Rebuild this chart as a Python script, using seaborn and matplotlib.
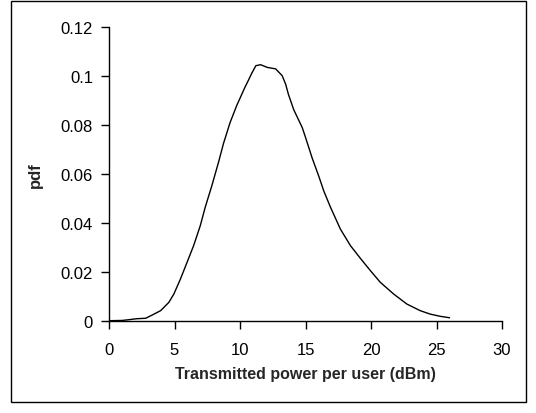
import matplotlib
matplotlib.use("Agg")
import matplotlib.pyplot as plt
import seaborn as sns
import pandas as pd
from matplotlib.patches import Rectangle

power_dbm = [0.0, 1.0, 1.5, 2.1, 2.8, 3.18, 3.94, 4.57, 4.95, 5.45, 5.96, 6.46,
             6.97, 7.35, 7.85, 8.36, 8.74, 9.24, 9.75, 10.38, 10.63, 10.88,
             11.21, 11.57, 12.08, 12.72, 13.22, 13.48, 13.7, 14.11, 14.75, 15.0,
             15.51, 16.02, 16.4, 16.9, 17.66, 18.43, 19.19, 19.95, 20.71, 21.73,
             22.74, 23.76, 24.52, 25.28, 26.0]
pdf_vals = [0.0, 0.0001, 0.0004, 0.0008, 0.001, 0.002, 0.0041, 0.0075, 0.0109,
            0.017, 0.0239, 0.0307, 0.0389, 0.0465, 0.0552, 0.0648, 0.0725, 0.0810,
            0.0880, 0.0955, 0.0982, 0.1010, 0.1043, 0.1047, 0.1036, 0.1030,
            0.1002, 0.0968, 0.0925, 0.0862, 0.0790, 0.075, 0.0665, 0.0590,
            0.0530, 0.0465, 0.0375, 0.0307, 0.0255, 0.0205, 0.0157, 0.0109,
            0.0068, 0.0041, 0.0027, 0.0018, 0.0012]
x_ticks = [0, 5, 10, 15, 20, 25, 30]
y_ticks = [0, 0.02, 0.04, 0.06, 0.08, 0.1, 0.12]
y_tick_labels = ["0", "0.02", "0.04", "0.06", "0.08", "0.1", "0.12"]

sns.set_style("ticks")
plt.rcParams['font.family'] = ['Liberation Sans', 'DejaVu Sans']

df = pd.DataFrame({"x": power_dbm, "y": pdf_vals})

fig = plt.figure(figsize=(5.36, 4.14), dpi=100)
W, H = 536, 414
ax = fig.add_axes([109 / W, (H - 321.7) / H, (502 - 109) / W, (321.7 - 28.3) / H])

sns.lineplot(data=df, x="x", y="y", ax=ax, color="black", linewidth=1.0)

ax.set_xlim(0, 30)
ax.set_ylim(0, 0.12)
ax.set_xticks(x_ticks)
ax.set_xticklabels([str(t) for t in x_ticks])
ax.set_yticks(y_ticks)
ax.set_yticklabels(y_tick_labels)
ax.tick_params(axis="both", direction="out", length=5.5, width=1, color="black",
               labelsize=12, labelcolor="black")
ax.tick_params(axis="x", pad=9.5)
ax.tick_params(axis="y", pad=6)
for s in ["top", "right"]:
    ax.spines[s].set_visible(False)
for s in ["left", "bottom"]:
    ax.spines[s].set_color("black")
    ax.spines[s].set_linewidth(1)

ax.set_xlabel("Transmitted power per user (dBm)", fontsize=11.5, fontweight="bold", labelpad=7)
ax.set_ylabel("pdf", fontsize=12, fontweight="bold", labelpad=13)

fig.patches.append(Rectangle((11 / W, (H - 403) / H), 515 / W, 401 / H,
                             transform=fig.transFigure, fill=False,
                             edgecolor="black", linewidth=1))

fig.savefig("out.png", dpi=100)
